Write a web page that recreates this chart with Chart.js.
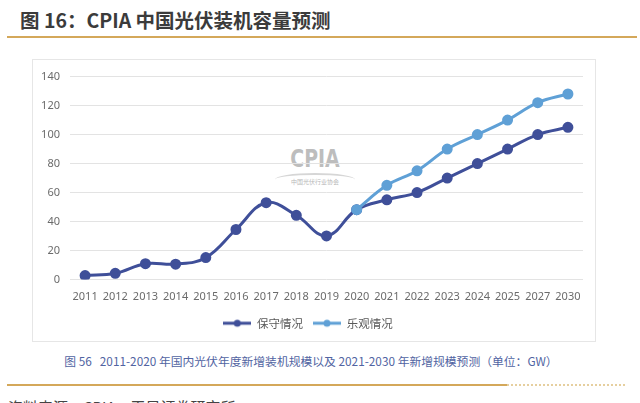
<!DOCTYPE html>
<html>
<head>
<meta charset="utf-8">
<script src="https://cdn.jsdelivr.net/npm/chart.js@4.4.1/dist/chart.umd.min.js"></script>
<style>
  html, body { margin:0; padding:0; background:#fff; }
  #page { position:relative; width:640px; height:403px; overflow:hidden; background:#fff;
          font-family:"Noto Sans CJK SC","Noto Sans",sans-serif; }
  #title { position:absolute; left:20px; top:5px; font-size:19.5px; font-weight:bold; color:#3b3b3b; white-space:nowrap; }
  #rule1 { position:absolute; left:7px; top:36px; width:630px; height:2px; background:#d4a85a; }
  #box { position:absolute; left:32px; top:59px; width:562px; height:281px; border:1px solid #e6e6e6; }
  #wm { position:absolute; left:242px; top:88px; width:80px; text-align:center; color:#bdbdbd; }
  #wm .big { font-family:"DejaVu Sans Condensed","DejaVu Sans",sans-serif; font-weight:bold; font-size:21px; line-height:22px; transform:scaleY(1.15); }
  #wm .small { font-size:6px; color:#b8b8b8; line-height:8px; border-top:2px solid #d6d6d6; border-radius:50% 50% 0 0; padding-top:3px; margin-top:3px; }
  #wrap { position:absolute; left:0; top:0; width:562px; height:281px; }
  #caption { position:absolute; left:0; width:622px; top:352px; text-align:center; font-size:11.8px; color:#5164a2; white-space:nowrap; }
  #rule2 { position:absolute; left:7px; top:384px; width:500px; height:2px; background:#d4a85a; }
  #rule3 { position:absolute; left:507px; top:384px; width:118px; height:0; border-top:2px dotted #e6cf9f; }
  #source { position:absolute; left:8px; top:396px; font-size:15px; color:#444; white-space:nowrap; }
</style>
</head>
<body>
<div id="page">
  <div id="title">图 16：CPIA 中国光伏装机容量预测</div>
  <div id="rule1"></div>
  <div id="box">
    <div id="wm"><div class="big">CPIA</div><div class="small">中国光伏行业协会</div></div>
    <div id="wrap"><canvas id="c"></canvas></div>
  </div>
  <div id="caption">图 56&nbsp;&nbsp; 2011-2020 年国内光伏年度新增装机规模以及 2021-2030 年新增规模预测（单位：GW）</div>
  <div id="rule2"></div>
  <div id="rule3"></div>
  <div id="source">资料来源：CPIA，天风证券研究所</div>
</div>
<script>
const years = ['2011','2012','2013','2014','2015','2016','2017','2018','2019','2020','2021','2022','2023','2024','2025','2027','2030'];
const conservative = [2.7, 4.3, 10.9, 10.6, 15.1, 34.5, 53.0, 44.3, 30.1, 48.2, 55, 60, 70, 80, 90, 100, 105];
const optimistic   = [null, null, null, null, null, null, null, null, null, 48.2, 65, 75, 90, 100, 110, 122, 128];
const yTicks = [0, 20, 40, 60, 80, 100, 120, 140];

const DARK = '#3f4f99', LIGHT = '#5fa0d6';

// legend marker: short line with a dot in the middle
function marker(color) {
  const cv = document.createElement('canvas');
  cv.width = 28; cv.height = 10;
  const g = cv.getContext('2d');
  g.strokeStyle = color; g.lineWidth = 3;
  g.beginPath(); g.moveTo(0, 5); g.lineTo(28, 5); g.stroke();
  g.fillStyle = color; g.beginPath(); g.arc(14, 5, 3.5, 0, Math.PI*2); g.fill();
  return cv;
}

const tickFont = { family: '"Noto Sans","Noto Sans CJK SC",sans-serif', size: 11 };

new Chart(document.getElementById('c'), {
  type: 'line',
  data: {
    labels: years,
    datasets: [
      { label: '保守情况', data: conservative, borderColor: DARK, backgroundColor: DARK,
        borderWidth: 3, pointRadius: 4, pointHoverRadius: 4, tension: 0.4, order: 1 },
      { label: '乐观情况', data: optimistic, borderColor: LIGHT, backgroundColor: LIGHT,
        borderWidth: 3, pointRadius: 4, pointHoverRadius: 4, tension: 0.4, order: 0 }
    ]
  },
  options: {
    animation: false, responsive: true, maintainAspectRatio: false,
    layout: { padding: { top: 10, right: 12, left: 0, bottom: 2 } },
    plugins: {
      legend: {
        position: 'bottom',
        labels: {
          usePointStyle: true, pointStyleWidth: 28, boxHeight: 10,
          color: '#595959', padding: 10,
          font: { family: '"Noto Sans CJK SC",sans-serif', size: 11.5 },
          generateLabels: (chart) => chart.data.datasets.map((ds, i) => ({
            text: ds.label, pointStyle: marker(ds.borderColor), fillStyle: ds.borderColor,
            strokeStyle: ds.borderColor, lineWidth: 0, datasetIndex: i, fontColor: '#595959'
          }))
        }
      },
      tooltip: { enabled: false }
    },
    scales: {
      x: {
        offset: true,
        afterFit: (s) => { s.height = 28; },
        grid: { display: false },
        border: { display: false },
        ticks: { color: '#6b6b6b', font: tickFont, maxRotation: 0, autoSkip: false, padding: 3 }
      },
      y: {
        min: 0, max: 140,
        afterFit: (s) => { s.width = 37; },
        afterBuildTicks: (s) => { s.ticks = yTicks.map(v => ({ value: v })); },
        grid: { color: '#e3e3e3', drawTicks: false },
        border: { display: false },
        ticks: { color: '#6b6b6b', font: tickFont, padding: 10 }
      }
    }
  }
});
</script>
</body>
</html>
